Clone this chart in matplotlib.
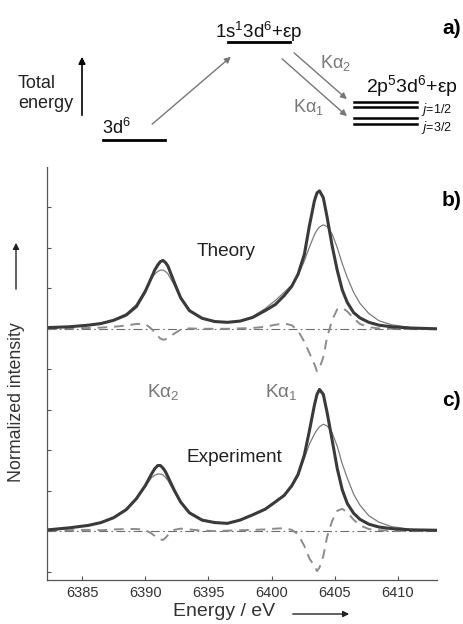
import matplotlib
matplotlib.use("Agg")
import matplotlib.pyplot as plt

plt.rcParams["font.family"] = ["Liberation Sans", "DejaVu Sans"]
plt.rcParams["mathtext.fontset"] = "custom"
plt.rcParams["mathtext.rm"] = "Liberation Sans"
plt.rcParams["mathtext.default"] = "regular"

# energy grid (eV) shared by all traces
energy = [6382.3, 6384.0, 6385.5, 6386.5, 6387.5, 6388.5, 6389.3, 6390.0,
          6390.5, 6390.75, 6391.0, 6391.2, 6391.4, 6391.6, 6391.8, 6392.3,
          6392.8, 6393.5, 6394.5, 6395.5, 6396.5, 6397.5, 6398.5, 6399.5,
          6400.3, 6401.0, 6401.6, 6402.1, 6402.6, 6403.0, 6403.4, 6403.6,
          6403.8, 6404.1, 6404.4, 6404.8, 6405.2, 6405.6, 6406.0, 6406.5,
          6407.0, 6407.7, 6408.5, 6409.5, 6411.0, 6413.1]

# b) theory
theory_thick = [0.03, 0.05, 0.09, 0.13, 0.21, 0.34, 0.55, 0.92,
                1.27, 1.45, 1.58, 1.66, 1.69, 1.64, 1.55, 1.15,
                0.77, 0.45, 0.26, 0.18, 0.16, 0.19, 0.28, 0.45,
                0.60, 0.82, 1.05, 1.35, 1.84, 2.55, 3.17, 3.36,
                3.41, 3.24, 2.76, 2.05, 1.45, 0.96, 0.65, 0.40,
                0.27, 0.16, 0.09, 0.05, 0.02, 0.00]
theory_thin = [0.03, 0.05, 0.09, 0.14, 0.22, 0.37, 0.60, 0.97,
               1.25, 1.35, 1.42, 1.45, 1.45, 1.42, 1.36, 1.08,
               0.75, 0.45, 0.26, 0.18, 0.16, 0.19, 0.30, 0.50,
               0.70, 0.90, 1.08, 1.32, 1.68, 2.02, 2.33, 2.44,
               2.52, 2.57, 2.53, 2.34, 2.01, 1.61, 1.27, 0.90,
               0.63, 0.38, 0.20, 0.10, 0.03, 0.00]
theory_diff = [0.00, 0.01, 0.02, 0.03, 0.05, 0.08, 0.12, 0.12,
               0.00, -0.09, -0.18, -0.24, -0.27, -0.26, -0.22, -0.12,
               -0.02, 0.01, 0.00, 0.00, 0.00, 0.01, 0.02, 0.05,
               0.10, 0.13, 0.09, -0.05, -0.32, -0.60, -0.88, -1.05,
               -0.97, -0.70, -0.21, 0.22, 0.48, 0.52, 0.43, 0.26,
               0.12, 0.04, 0.01, 0.00, 0.00, 0.00]

# c) experiment
exp_thick = [0.03, 0.08, 0.14, 0.21, 0.33, 0.53, 0.80, 1.12,
             1.41, 1.54, 1.62, 1.62, 1.56, 1.47, 1.34, 1.01,
             0.72, 0.45, 0.27, 0.21, 0.19, 0.27, 0.40, 0.54,
             0.72, 0.88, 1.12, 1.40, 1.88, 2.48, 3.12, 3.38,
             3.50, 3.38, 2.93, 2.25, 1.55, 1.02, 0.68, 0.44,
             0.29, 0.17, 0.10, 0.06, 0.03, 0.02]
exp_thin = [0.03, 0.08, 0.14, 0.21, 0.34, 0.54, 0.81, 1.10,
            1.32, 1.38, 1.41, 1.41, 1.39, 1.33, 1.25, 0.97,
            0.71, 0.47, 0.29, 0.21, 0.19, 0.27, 0.40, 0.55,
            0.73, 0.90, 1.09, 1.36, 1.80, 2.15, 2.40, 2.50,
            2.58, 2.64, 2.60, 2.43, 2.10, 1.66, 1.31, 0.91,
            0.64, 0.38, 0.22, 0.11, 0.04, 0.02]
exp_diff = [0.02, 0.02, 0.03, 0.02, 0.04, 0.05, 0.05, 0.03,
            -0.06, -0.12, -0.18, -0.21, -0.22, -0.17, -0.10, 0.03,
            0.06, 0.04, 0.01, 0.00, 0.01, 0.02, 0.03, 0.04,
            0.06, 0.07, 0.03, -0.08, -0.37, -0.68, -0.86, -0.99,
            -0.90, -0.62, -0.14, 0.25, 0.50, 0.55, 0.46, 0.28,
            0.14, 0.05, 0.02, 0.01, 0.00, 0.00]

x_ticks = [6385, 6390, 6395, 6400, 6405, 6410]
B_OFFSET = 5.0

THICK = "#3a3a3a"
THIN = "#7c7c7c"
DASH = "#8c8c8c"

fig = plt.figure(figsize=(4.63, 6.24), dpi=100)

# ---- spectra (b and c share one axis) ----
ax = fig.add_axes([47.3 / 463, 1 - 580 / 624, (437 - 47.3) / 463, (580 - 167) / 624])
for off, thick, thin, diff in [(B_OFFSET, theory_thick, theory_thin, theory_diff),
                               (0.0, exp_thick, exp_thin, exp_diff)]:
    ax.axhline(off, color="#6e6e6e", lw=0.8, ls=(0, (8, 3, 1.5, 3)))
    ax.plot(energy, [v + off for v in diff], color=DASH, lw=1.4, ls=(0, (5, 3.5)))
    ax.plot(energy, [v + off for v in thin], color=THIN, lw=0.9)
    ax.plot(energy, [v + off for v in thick], color=THICK, lw=2.2)

ax.set_xlim(6382.25, 6413.1)
ax.set_ylim(-1.21, 9.0)
ax.set_xticks(x_ticks)
ax.set_yticks([-1, 0, 1, 2, 3, 4, 5, 6, 7, 8])
ax.set_yticklabels([])
ax.tick_params(direction="in", length=3, width=0.8, color="#555",
               labelsize=10.5, labelcolor="#333", pad=4)
for s in ("top", "right"):
    ax.spines[s].set_visible(False)
for s in ("left", "bottom"):
    ax.spines[s].set_color("#555")
    ax.spines[s].set_linewidth(0.9)

# ---- overlay in pixel coordinates for diagram and labels ----
ov = fig.add_axes([0, 0, 1, 1])
ov.set_xlim(0, 463)
ov.set_ylim(624, 0)
ov.axis("off")
ov.patch.set_alpha(0)

# panel labels
for lab, y in [("a)", 28), ("b)", 200), ("c)", 401)]:
    ov.text(461, y, lab, fontsize=15, fontweight="bold", ha="right", va="center")

ov.text(197, 252, "Theory", fontsize=13.7, ha="left", va="center", color="#222")
ov.text(187, 457, "Experiment", fontsize=13.7, ha="left", va="center", color="#222")
ov.text(147, 392, "Kα$_2$", fontsize=13.7, ha="left", va="center", color="#777")
ov.text(265, 392, "Kα$_1$", fontsize=13.7, ha="left", va="center", color="#777")

# axis labels with arrows
ov.text(17, 402, "Normalized intensity", fontsize=12.8, rotation=90,
        ha="center", va="center", color="#333")
ov.annotate("", xy=(16, 240), xytext=(16, 292),
            arrowprops=dict(arrowstyle="-|>", color="#222", lw=1.0, mutation_scale=9))
ov.text(224, 612, "Energy / eV", fontsize=14, ha="center", va="center", color="#333")
ov.annotate("", xy=(352, 614), xytext=(290, 614),
            arrowprops=dict(arrowstyle="-|>", color="#222", lw=1.0, mutation_scale=9))

# ---- a) energy level diagram ----
ov.text(18, 84, "Total", fontsize=13, ha="left", va="center", color="#222")
ov.text(18, 104, "energy", fontsize=13, ha="left", va="center", color="#222")
ov.annotate("", xy=(82, 54), xytext=(82, 118),
            arrowprops=dict(arrowstyle="-|>", color="black", lw=1.2, mutation_scale=10))

ov.plot([103, 165], [140, 140], color="black", lw=2.0)
ov.text(102, 134, "3d$^6$", fontsize=13, ha="left", va="baseline", color="#111")

ov.plot([228, 290], [42, 42], color="black", lw=2.0)
ov.text(259, 38, "1s$^1$3d$^6$+εp", fontsize=13.5, ha="center", va="baseline", color="#111")

ov.annotate("", xy=(233, 55), xytext=(150, 126),
            arrowprops=dict(arrowstyle="-|>", color="#777", lw=1.0, mutation_scale=9))
ov.annotate("", xy=(349, 101), xytext=(292, 51),
            arrowprops=dict(arrowstyle="-|>", color="#777", lw=1.0, mutation_scale=9))
ov.annotate("", xy=(349, 118), xytext=(280, 57),
            arrowprops=dict(arrowstyle="-|>", color="#777", lw=1.0, mutation_scale=9))
ov.text(320, 63, "Kα$_2$", fontsize=13, ha="left", va="center", color="#777")
ov.text(293, 107, "Kα$_1$", fontsize=13, ha="left", va="center", color="#777")

ov.text(412, 92, "2p$^5$3d$^6$+εp", fontsize=14, ha="center", va="baseline", color="#111")
for y in (102, 107, 118, 124):
    ov.plot([354, 417], [y, y], color="black", lw=1.8)
ov.text(421, 109, "$\\mathit{j}$=1/2", fontsize=9, ha="left", va="center", color="#111")
ov.text(421, 128, "$\\mathit{j}$=3/2", fontsize=9, ha="left", va="center", color="#111")

fig.savefig("out.png", dpi=100)
